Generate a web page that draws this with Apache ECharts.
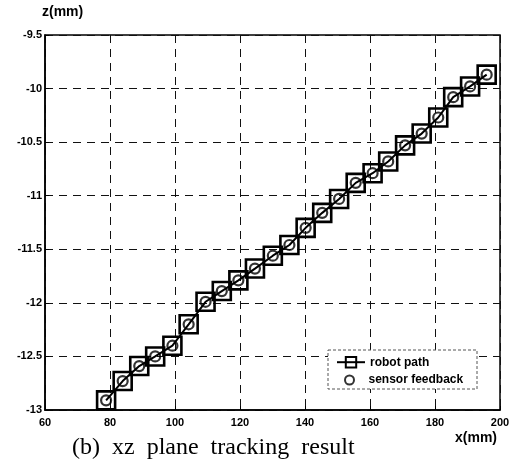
<!DOCTYPE html>
<html>
<head>
<meta charset="utf-8">
<script src="https://cdn.jsdelivr.net/npm/echarts@6/dist/echarts.min.js"></script>
<style>
  html, body { margin: 0; padding: 0; background: #fff; }
  #chart { width: 519px; height: 467px; }
</style>
</head>
<body>
<div id="chart"></div>
<script>
// x positions (mm) of the tracked points
var xValues = [78.8, 83.9, 89.0, 93.9, 99.2, 104.2, 109.4, 114.4, 119.5, 124.6,
               130.1, 135.2, 140.2, 145.3, 150.5, 155.6, 160.8, 165.6, 170.8, 175.9,
               181.0, 185.6, 190.8, 195.9];
// commanded robot z (mm)
var robotZ = [-12.91, -12.73, -12.59, -12.50, -12.40, -12.20, -11.99, -11.89, -11.79, -11.68,
              -11.56, -11.46, -11.30, -11.16, -11.03, -10.88, -10.79, -10.68, -10.53, -10.42,
              -10.27, -10.08, -9.98, -9.87];
// z measured by the sensor (mm)
var sensorZ = [-12.91, -12.73, -12.59, -12.50, -12.40, -12.20, -11.99, -11.89, -11.79, -11.68,
               -11.56, -11.46, -11.30, -11.16, -11.03, -10.88, -10.79, -10.68, -10.53, -10.42,
               -10.27, -10.08, -9.98, -9.87];
var seriesNames = ['robot path', 'sensor feedback'];
var caption = '(b)  xz  plane  tracking  result';

function pairs(xs, ys) {
  return xs.map(function (x, i) { return [x, ys[i]]; });
}

var labelFont = { fontFamily: 'Liberation Sans', fontWeight: 'bold', fontSize: 11, color: '#000' };
var dashed = { show: true, lineStyle: { color: '#111', width: 1, type: [8, 6] } };
var legendText = { fontFamily: 'Liberation Sans', fontSize: 12, color: '#000', fontWeight: 'bold' };

var chart = echarts.init(document.getElementById('chart'), null, { renderer: 'canvas' });
chart.setOption({
  animation: false,
  backgroundColor: '#fff',
  grid: { left: 45, right: 19, top: 35, bottom: 57, show: true, borderColor: '#000', borderWidth: 1.5 },
  xAxis: {
    type: 'value', min: 60, max: 200, interval: 20,
    axisLine: { show: true, lineStyle: { color: '#000', width: 1.5 } },
    axisTick: { show: true, inside: true, length: 4, lineStyle: { color: '#000' } },
    axisLabel: Object.assign({ margin: 7 }, labelFont),
    splitLine: dashed
  },
  yAxis: {
    type: 'value', min: -13, max: -9.5, interval: 0.5,
    axisLine: { show: true, lineStyle: { color: '#000', width: 1.5 } },
    axisTick: { show: true, inside: true, length: 4, lineStyle: { color: '#000' } },
    axisLabel: Object.assign({ margin: 3 }, labelFont),
    splitLine: dashed
  },
  legend: [
    {
      left: 331, top: 351, itemWidth: 28, itemHeight: 13, itemGap: 6,
      textStyle: legendText, data: [seriesNames[0]], z: 5
    },
    {
      left: 339, top: 369, itemWidth: 28, itemHeight: 9, itemGap: 6,
      textStyle: legendText, data: [seriesNames[1]], z: 5
    }
  ],
  graphic: [
    { type: 'rect', shape: { x: 328, y: 350, width: 149, height: 39 }, z: 1,
      style: { fill: '#fff', stroke: '#555', lineWidth: 1, lineDash: [3, 2] } },
    { type: 'text', left: 42, top: 5,
      style: { text: 'z(mm)', font: 'bold 14px "Liberation Sans"', fill: '#000' } },
    { type: 'text', left: 455, top: 431,
      style: { text: 'x(mm)', font: 'bold 14px "Liberation Sans"', fill: '#000' } },
    { type: 'text', left: 72, top: 436,
      style: { text: caption, font: '24px "Liberation Serif"', fill: '#000' } }
  ],
  series: [
    {
      name: seriesNames[0], type: 'line', data: pairs(xValues, robotZ),
      symbol: 'rect', symbolSize: 18,
      lineStyle: { color: '#000', width: 2 },
      itemStyle: { color: 'rgba(255,255,255,0)', borderColor: '#000', borderWidth: 2.6 },
      z: 3
    },
    {
      name: seriesNames[1], type: 'scatter', data: pairs(xValues, sensorZ),
      symbol: 'circle', symbolSize: 10,
      itemStyle: { color: 'rgba(255,255,255,0)', borderColor: '#000', borderWidth: 2.2 },
      z: 4
    }
  ]
});
</script>
</body>
</html>
